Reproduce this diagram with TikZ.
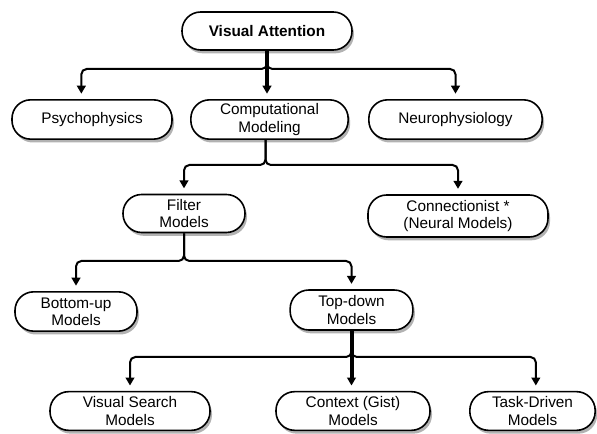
\documentclass[tikz,border=0pt]{standalone}
\usepackage{fontspec}
\setmainfont{Liberation Sans}
\usetikzlibrary{arrows.meta,shadows,calc}
\begin{document}
\begin{tikzpicture}[x=0.75pt,y=-0.75pt,
  box/.style={draw=black, line width=1.2pt, fill=white, rounded corners=14pt,
    align=center, inner sep=0pt, font=\fontsize{11.5}{13}\selectfont,
    drop shadow={shadow xshift=1.5pt, shadow yshift=-2.5pt, opacity=0.3, fill=black}},
  conn/.style={line width=1.5pt, rounded corners=4pt,
    -{Triangle[width=6.5pt,length=6pt]}, shorten >=4pt},
  trunk/.style={conn, line width=3pt}]
\useasboundingbox (0,0) rectangle (597,434);

\node[box, minimum width=127.5pt, minimum height=28.5pt, font=\fontsize{11.5}{13}\selectfont\bfseries] (va) at (267,31) {Visual Attention};
\node[box, minimum width=120pt, minimum height=29.5pt] (psy) at (92,119.5) {Psychophysics};
\node[box, minimum width=118pt, minimum height=29.5pt] (comp) at (269.5,119.5) {Computational\\Modeling};
\node[box, minimum width=130pt, minimum height=29.5pt] (neu) at (455.5,119.5) {Neurophysiology};
\node[box, minimum width=91.5pt, minimum height=28.5pt] (filt) at (184,213.5) {Filter\\Models};
\node[box, minimum width=135pt, minimum height=31.5pt] (cnn) at (458,216) {Connectionist *\\(Neural Models)};
\node[box, minimum width=91.5pt, minimum height=29.5pt] (bu) at (76,311.5) {Bottom-up\\Models};
\node[box, minimum width=92pt, minimum height=30pt] (td) at (351.5,310) {Top-down\\Models};
\node[box, minimum width=120pt, minimum height=29pt] (vs) at (130,411) {Visual Search\\Models};
\node[box, minimum width=115.5pt, minimum height=29pt] (ctx) at (353,411) {Context (Gist)\\Models};
\node[box, minimum width=94pt, minimum height=29pt] (task) at (532.5,411) {Task-Driven\\Models};

\coordinate (b1) at (0,69);
\coordinate (b2) at (0,165);
\coordinate (b3) at (0,261);
\coordinate (b4) at (0,357);

\draw[conn] (va.south) -- (va.south |- b1) -| ([xshift=-8pt]psy.north);
\draw[conn] (va.south) -- (va.south |- b1) -| (neu.north);
\draw[trunk] (va.south) -- (va.south |- comp.north);

\draw[conn] ([xshift=-3pt]comp.south) -- ([xshift=-3pt]comp.south |- b2) -| (filt.north);
\draw[conn] ([xshift=-3pt]comp.south) -- ([xshift=-3pt]comp.south |- b2) -| (cnn.north);

\draw[conn] (filt.south) -- (filt.south |- b3) -| (bu.north);
\draw[conn] (filt.south) -- (filt.south |- b3) -| (td.north);

\draw[conn] (td.south) -- (td.south |- b4) -| (vs.north);
\draw[conn] (td.south) -- (td.south |- b4) -| ([xshift=2.5pt]task.north);
\draw[trunk] (td.south) -- (td.south |- ctx.north);
\end{tikzpicture}
\end{document}
